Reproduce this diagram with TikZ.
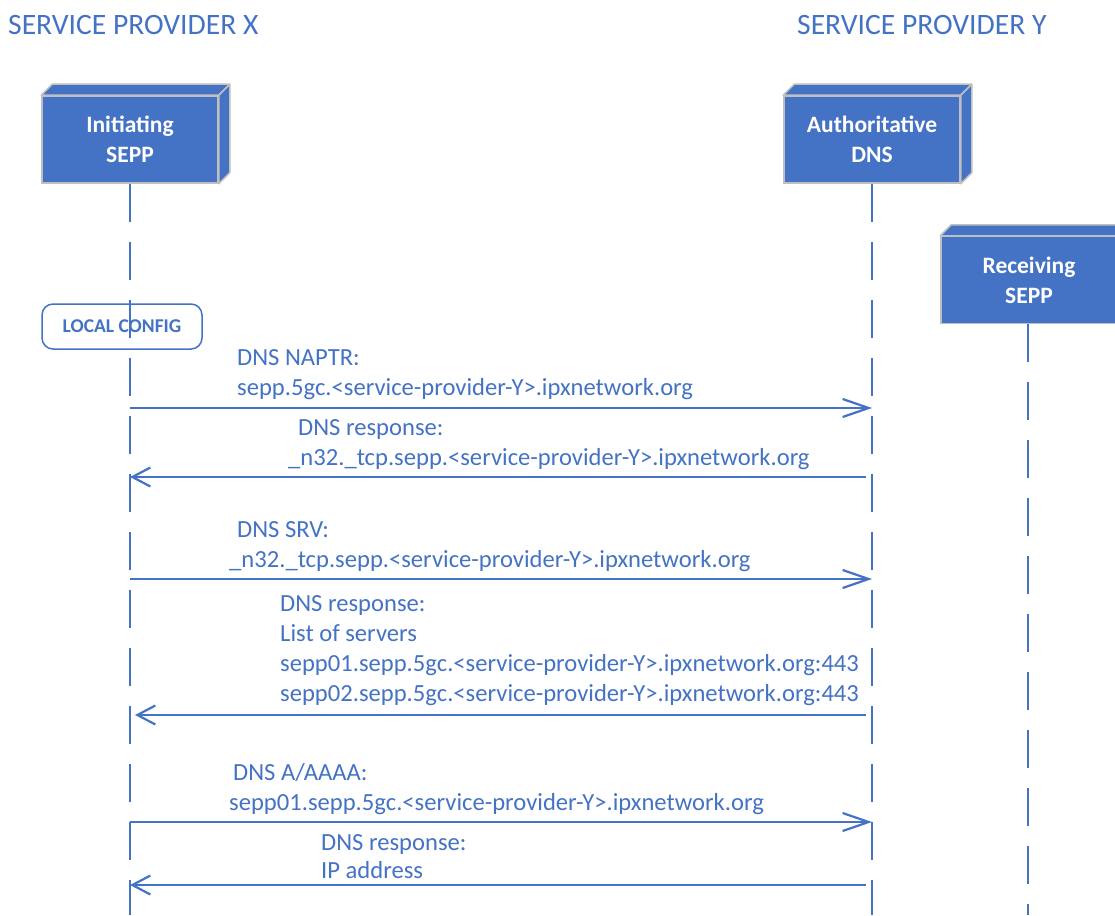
\documentclass[tikz,border=0pt]{standalone}
\usepackage{fontspec}
\setmainfont{Carlito}
\usetikzlibrary{arrows.meta,calc}
\definecolor{obl}{HTML}{4472C4}
\definecolor{edge}{HTML}{BFBFBF}
\begin{document}
\begin{tikzpicture}[x=1pt,y=-1pt,
  actor/.style={draw=edge,line width=1.5pt,fill=obl,minimum width=176pt,minimum height=87pt,
    inner sep=0pt,align=center,text=white,font=\fontsize{23.5}{30}\selectfont\bfseries},
  face/.style={draw=edge,line width=1.5pt,fill=obl,line join=round},
  life/.style={draw=obl,line width=2.5pt,dash pattern=on 38pt off 20pt},
  msgr/.style={draw=obl,line width=2.2pt,-{Straight Barb[length=26pt,width=18pt,line width=2.2pt]}},
  msgl/.style={draw=obl,line width=2.2pt,-{Straight Barb[length=18pt,width=19pt,line width=2.2pt]}},
  lbl/.style={anchor=base west,inner sep=0pt,text=obl,font=\fontsize{24.6}{30}\selectfont},
  ttl/.style={anchor=base west,inner sep=0pt,text=obl,font=\fontsize{29.6}{34}\selectfont},
]
\useasboundingbox (0,0) rectangle (1115,915);
\clip (0,0) rectangle (1115,915);

% titles
\node[ttl] (tx) at (8,35) {SERVICE PROVIDER X};
\node[ttl] (ty) at (797,35) {SERVICE PROVIDER Y};

% actor boxes
\foreach \n/\cx/\cy/\t in {init/130/139.5/{Initiating\\SEPP},dns/872/139.5/{Authoritative\\DNS},recv/1029/280/{Receiving\\SEPP}}{
  \node[actor] (\n) at (\cx,\cy) {\t};
  \draw[face] (\n.north west) -- ++(11,-11) -- ($(\n.north east)+(11,-11)$) -- (\n.north east) -- cycle;
  \draw[face] (\n.north east) -- ++(11,-11) -- ($(\n.south east)+(11,-11)$) -- (\n.south east) -- cycle;
}

% local config
\node[draw=obl,line width=1.5pt,rounded corners=11pt,fill=white,minimum width=160pt,minimum height=45pt,
  inner sep=0pt,text=obl,font=\fontsize{19.5}{20}\selectfont\bfseries] (lc) at (122,326.5) {LOCAL CONFIG};

% lifelines
\coordinate (iend) at (130,915);
\coordinate (dend) at (872,915);
\coordinate (rend) at (1028,915);
\draw[life] (init.south) -- (iend);
\draw[life] (dns.south) -- (dend);
\draw[life] (recv.south -| rend) -- (rend);

% message end points
\coordinate (a1) at (130,408); \coordinate (b1) at (872,408);
\coordinate (a2) at (130,477); \coordinate (b2) at (866,477);
\coordinate (a3) at (130,579); \coordinate (b3) at (872,579);
\coordinate (a4) at (135,715); \coordinate (b4) at (866,715);
\coordinate (a5) at (130,822); \coordinate (b5) at (872,822);
\coordinate (a6) at (130,885); \coordinate (b6) at (866,885);

\draw[msgr] (a1) -- (b1);
\draw[msgl] (b2) -- (a2);
\draw[msgr] (a3) -- (b3);
\draw[msgl] (b4) -- (a4);
\draw[msgr] (a5) -- (b5);
\draw[msgl] (b6) -- (a6);

% labels
\node[lbl] (m1a) at (237,365) {DNS NAPTR:};
\node[lbl] (m1b) at (237,395) {sepp.5gc.<service-provider-Y>.ipxnetwork.org};
\node[lbl] (m2a) at (298,435) {DNS response:};
\node[lbl] (m2b) at (288,465) {\_n32.\_tcp.sepp.<service-provider-Y>.ipxnetwork.org};
\node[lbl] (m3a) at (237,537) {DNS SRV:};
\node[lbl] (m3b) at (229,567) {\_n32.\_tcp.sepp.<service-provider-Y>.ipxnetwork.org};
\node[lbl] (m4a) at (280,611) {DNS response:};
\node[lbl] (m4b) at (280,641) {List of servers};
\node[lbl] (m4c) at (280,671) {sepp01.sepp.5gc.<service-provider-Y>.ipxnetwork.org:443};
\node[lbl] (m4d) at (280,701) {sepp02.sepp.5gc.<service-provider-Y>.ipxnetwork.org:443};
\node[lbl] (m5a) at (233,780) {DNS A/AAAA:};
\node[lbl] (m5b) at (229,810) {sepp01.sepp.5gc.<service-provider-Y>.ipxnetwork.org};
\node[lbl] (m6a) at (321,850) {DNS response:};
\node[lbl] (m6b) at (321,878) {IP address};
\end{tikzpicture}
\end{document}
